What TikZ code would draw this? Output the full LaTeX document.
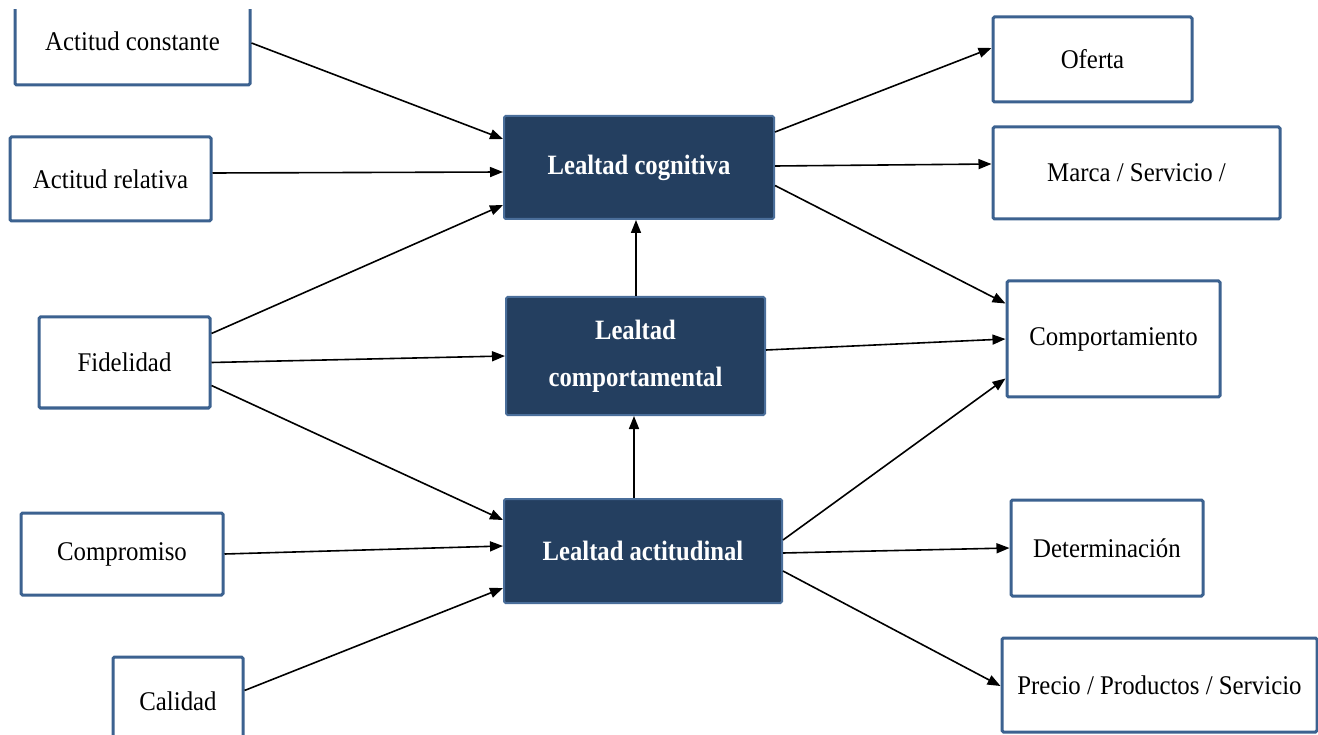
\documentclass[tikz,border=0pt]{standalone}
\usepackage{fontspec}
\setmainfont{Liberation Serif}[FakeStretch=0.92]
\newfontfamily\hdfont{Liberation Serif}[FakeStretch=0.88]
\usetikzlibrary{arrows.meta}
\definecolor{darkbox}{HTML}{243F60}
\definecolor{darkedge}{HTML}{4A6E9A}
\definecolor{boxedge}{HTML}{3C6290}
\begin{document}
\begin{tikzpicture}[x=1pt,y=-1pt,
  wbox/.style={draw=boxedge, line width=3pt, fill=white, rectangle, rounded corners=1.5pt, inner sep=0pt, font=\fontsize{27}{32}\selectfont, align=center},
  dbox/.style={draw=darkedge, line width=2pt, fill=darkbox, text=white, rectangle, rounded corners=1.5pt, inner sep=0pt, font=\hdfont\bfseries\fontsize{28}{47}\selectfont, align=center},
  arr/.style={-{Triangle[length=13pt,width=10pt]}, line width=1.6pt, black}]
\useasboundingbox[fill=white] (0,0) rectangle (1318,735);
\begin{scope}
\clip (0,10) rectangle (1318,735);
\node[wbox, minimum width=235pt, minimum height=88pt] (ac) at (132.5,41) {Actitud constante};
\node[wbox, minimum width=130pt, minimum height=88pt] (ca) at (178,701) {Calidad};
\end{scope}
\node[wbox, minimum width=201pt, minimum height=84pt] (ar) at (110.5,179) {Actitud relativa};
\node[wbox, minimum width=171pt, minimum height=91pt] (fi) at (124.5,362.5) {Fidelidad};
\node[wbox, minimum width=202pt, minimum height=82pt] (co) at (122,554) {Compromiso};
\node[dbox, minimum width=270pt, minimum height=103pt] (lc) at (639,167.5) {Lealtad cognitiva};
\node[dbox, minimum width=259pt, minimum height=118pt] (lp) at (635.5,356) {Lealtad\\comportamental};
\node[dbox, minimum width=278pt, minimum height=104pt] (la) at (643,551) {Lealtad actitudinal};
\node[wbox, minimum width=199pt, minimum height=85pt] (of) at (1092.5,59.5) {Oferta};
\node[wbox, minimum width=287pt, minimum height=92pt] (ma) at (1136.5,173) {Marca / Servicio /};
\node[wbox, minimum width=213pt, minimum height=116pt] (cp) at (1113.5,339) {Comportamiento};
\node[wbox, minimum width=192pt, minimum height=96pt] (de) at (1107,548) {Determinación};
\node[wbox, minimum width=315pt, minimum height=94pt] (pr) at (1159.5,685) {Precio / Productos / Servicio};
% inputs
\draw[arr] ([yshift=-2pt]ac.east) -- ([yshift=-24pt]lc.north west);
\draw[arr] ([yshift=6pt]ar.east) -- ([yshift=-4.5pt]lc.west);
\draw[arr] ([yshift=-18pt]fi.north east) -- ([yshift=15pt]lc.south west);
\draw[arr] (fi.east) -- (lp.west);
\draw[arr] ([yshift=-23pt]fi.east) -- ([yshift=-22pt]la.north west);
\draw[arr] (co.east) -- ([yshift=5pt]la.west);
\draw[arr] ([yshift=-35pt]ca.north east) -- ([yshift=16pt]la.south west);
% vertical
\draw[arr] ([xshift=0.5pt]lp.north) -- ([xshift=0.5pt]lp.north |- lc.south);
\draw[arr] ([xshift=-9pt]la.north) -- ([xshift=-9pt]la.north |- lp.south);
% outputs
\draw[arr] ([yshift=-17pt]lc.north east) -- ([yshift=11.5pt]of.west);
\draw[arr] ([yshift=1.5pt]lc.east) -- ([yshift=9pt]ma.west);
\draw[arr] ([yshift=-18pt]lc.east) -- ([yshift=-24pt]cp.north west);
\draw[arr] ([yshift=6pt]lp.east) -- (cp.west);
\draw[arr] ([yshift=11pt]la.east) -- ([yshift=20pt]cp.south west);
\draw[arr] ([yshift=-2pt]la.east) -- (de.west);
\draw[arr] ([yshift=-20pt]la.east) -- ([yshift=-1pt]pr.west);
\end{tikzpicture}
\end{document}
